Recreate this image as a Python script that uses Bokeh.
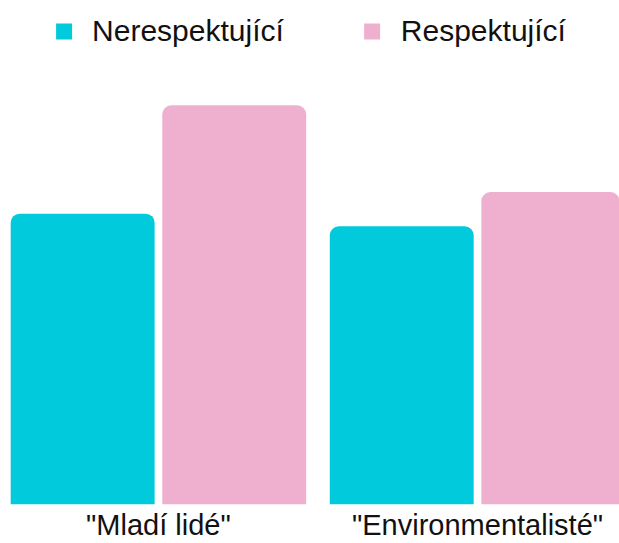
from bokeh.plotting import figure
from bokeh.models import Range1d, ColumnDataSource, Legend, LegendItem, FixedTicker
from bokeh.transform import dodge
from bokeh.embed import file_html
from bokeh.resources import INLINE

groups = ['"Mladí lidé"', '"Environmentalisté"']
series_names = ["Nerespektující", "Respektující"]
nerespektujici = [57.7, 55.2]
respektujici = [79.2, 62.0]
colors = ["#00CADB", "#EFB0D0"]

xc = [i + 0.5 for i in range(len(groups))]
src = ColumnDataSource(dict(x=xc, group=groups, a=nerespektujici, b=respektujici))

p = figure(width=619, height=543, output_backend="svg", toolbar_location=None,
           x_range=Range1d(0.005, 1.945), y_range=Range1d(0, 100), min_border=0)

r1 = p.vbar(x=dodge("x", -0.2375), top="a", width=0.451, source=src,
            color=colors[0], line_color=None, border_radius=(9, 9, 0, 0))
r2 = p.vbar(x=dodge("x", 0.2375), top="b", width=0.451, source=src,
            color=colors[1], line_color=None, border_radius=(9, 9, 0, 0))

legend = Legend(items=[LegendItem(label=series_names[0], renderers=[r1]),
                       LegendItem(label=series_names[1], renderers=[r2])],
                orientation="horizontal", location="top_center",
                glyph_width=20, glyph_height=20, label_standoff=19, spacing=78,
                label_text_font="Liberation Sans", label_text_font_size="30px",
                label_text_color="#111111",
                border_line_color=None, background_fill_alpha=0,
                margin=14, padding=14)
p.add_layout(legend, "center")

p.xgrid.visible = False
p.ygrid.visible = False
p.yaxis.visible = False
p.outline_line_color = None
p.xaxis.ticker = FixedTicker(ticks=xc)
p.xaxis.major_label_overrides = {x: g for x, g in zip(xc, groups)}
p.xaxis.axis_line_color = None
p.xaxis.major_tick_line_color = None
p.xaxis.minor_tick_line_color = None
p.xaxis.major_tick_out = 0
p.xaxis.major_tick_in = 0
p.xaxis.major_label_standoff = 4
p.xaxis.major_label_text_font = "Liberation Sans"
p.xaxis.major_label_text_font_size = "29px"
p.xaxis.major_label_text_color = "#111111"

open("out.html", "w").write(file_html(p, INLINE))
